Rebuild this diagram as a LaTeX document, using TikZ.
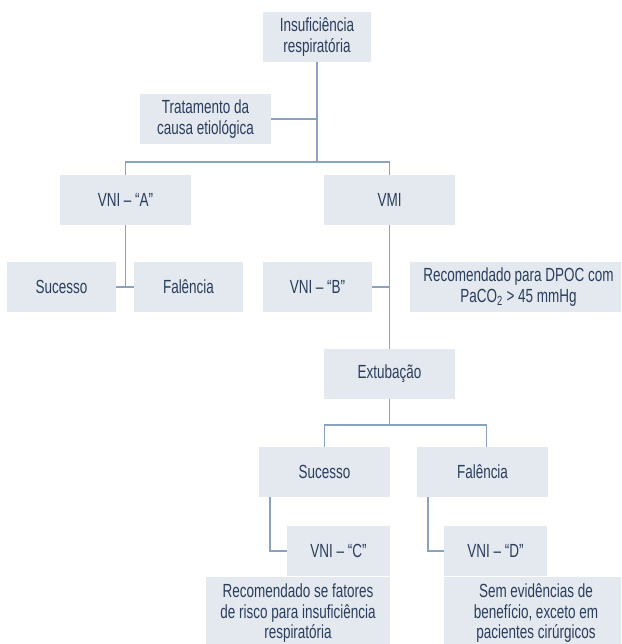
\documentclass[tikz,border=0pt]{standalone}
\usepackage{fontspec}
\setmainfont{Liberation Sans}[FakeStretch=0.71]
\usetikzlibrary{calc}
\definecolor{boxfill}{HTML}{E4E9F0}
\definecolor{ink}{HTML}{2A3D5A}
\definecolor{linkc}{HTML}{8AA2BF}
\begin{document}
\begin{tikzpicture}[x=1pt,y=-1pt,
  box/.style={fill=boxfill, text=ink, inner sep=0pt, align=center,
    font=\fontsize{19}{21}\selectfont, minimum height=50pt},
  notebox/.style={box, minimum width=184pt, minimum height=74pt,
    font=\fontsize{19}{20.5}\selectfont},
  link/.style={draw=linkc, line width=1.5pt}]
\useasboundingbox (0,0) rectangle (621,644);
\clip (0,0) rectangle (621,644);

% boxes
\node[box, minimum width=108pt] (ins)  at (317,37)    {Insuficiência\\respiratória};
\node[box, minimum width=131pt] (trat) at (205.5,119) {Tratamento da\\causa etiológica};
\node[box, minimum width=131pt] (vnia) at (125.5,200) {VNI – “A”};
\node[box, minimum width=131pt] (vmi)  at (389.5,200) {VMI};
\node[box, minimum width=109pt] (suc1) at (61.5,287)  {Sucesso};
\node[box, minimum width=109pt] (fal1) at (188.5,287) {Falência};
\node[box, minimum width=109pt] (vnib) at (317.5,287) {VNI – “B”};
\node[box, minimum width=217pt] (recb) at (518.5,287) {Recomendado para DPOC com\\PaCO\textsubscript{2} > 45 mmHg};
\node[box, minimum width=131pt] (ext)  at (389.5,374) {Extubação};
\node[box, minimum width=131pt] (suc2) at (324.5,472) {Sucesso};
\node[box, minimum width=131pt] (fal2) at (482.5,472) {Falência};
\node[box, minimum width=103pt] (vnic) at (338.5,551) {VNI – “C”};
\node[box, minimum width=103pt] (vnid) at (495.5,551) {VNI – “D”};
\node[notebox] (recc) at (298,613.5)
  {Recomendado se fatores\\de risco para insuficiência\\respiratória};
\node[notebox] (recd) at (536,613.5)
  {Sem evidências de\\benefício, exceto em\\pacientes cirúrgicos};

% junctions
\coordinate (j1) at (317,162);
\coordinate (j2) at (389.5,425);
\coordinate (f2top) at ($(fal2.north)+(4,0)$);

% connectors
\draw[link] (ins.south) -- (j1);
\draw[link] (trat.east) -- (trat.east -| ins.south);
\draw[link] (vnia.north) |- (j1) -| (vmi.north);
\draw[link] (vnia.south) -- (vnia.south |- suc1.east);
\draw[link] (suc1.east) -- (fal1.west);
\draw[link] (vmi.south) -- (ext.north);
\draw[link] (vnib.east) -- (vnib.east -| vmi.south);
\draw[link] (ext.south) -- (j2);
\draw[link] (suc2.north) |- (j2) -| (f2top);
\draw[link] ($(suc2.south west)+(11.3,0)$) |- (vnic.west);
\draw[link] ($(fal2.south west)+(11,0)$) |- (vnid.west);
\end{tikzpicture}
\end{document}
